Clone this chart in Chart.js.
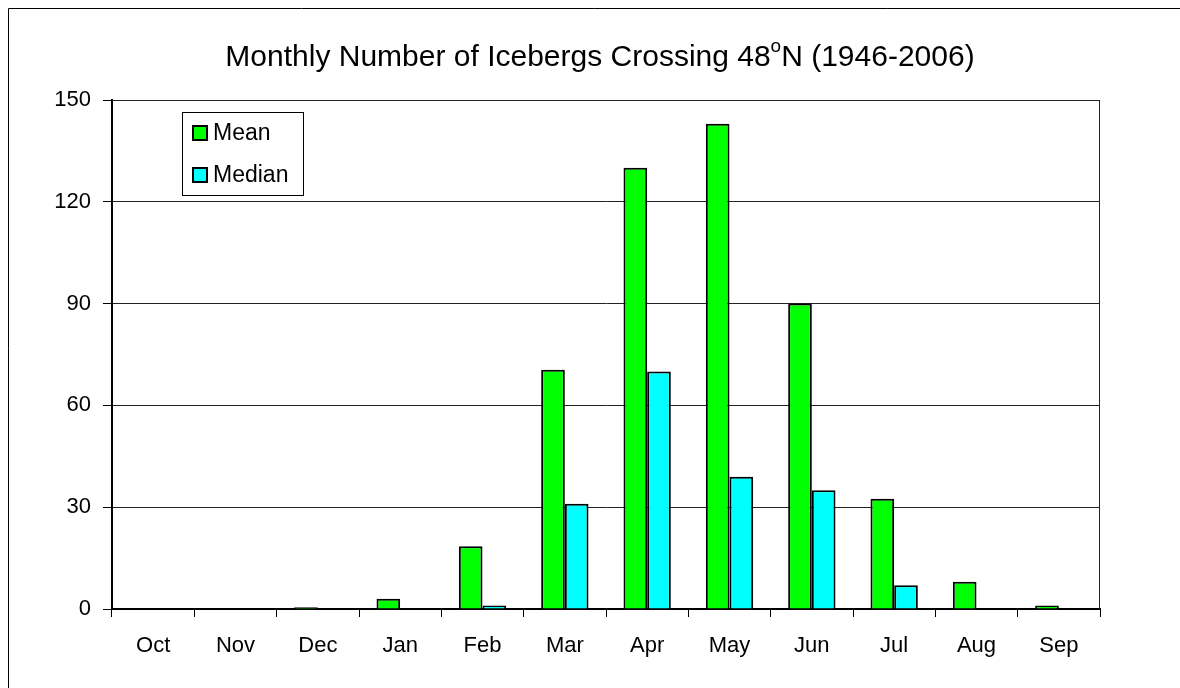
<!DOCTYPE html>
<html>
<head>
<meta charset="utf-8">
<title>Monthly Number of Icebergs Crossing 48N</title>
<script src="https://cdn.jsdelivr.net/npm/chart.js@4/dist/chart.umd.min.js"></script>
<style>
    html, body { margin: 0; padding: 0; background: #fff; }
    #wrap { width: 1180px; height: 688px; position: relative; }
</style>
</head>
<body>
<div id="wrap"><canvas id="grafica" width="1180" height="688"></canvas></div>
<script>
// =============================
// DATA
// =============================
const months = ["Oct", "Nov", "Dec", "Jan", "Feb", "Mar", "Apr", "May", "Jun", "Jul", "Aug", "Sep"];
const meanValues = [0, 0, 0.5, 3, 18.5, 70.5, 130, 143, 90, 32.5, 8, 1];
const medianValues = [0, 0, 0, 0, 1, 31, 70, 39, 35, 7, 0, 0];
const yTicks = [0, 30, 60, 90, 120, 150];

const FONT = '"Liberation Sans", Arial, sans-serif';

// =============================
// EXTRA DRAWING (title, legend, frames)
// =============================
const decoPlugin = {
    id: 'deco',
    afterDraw(chart) {
        const ctx = chart.ctx;
        const area = chart.chartArea;
        ctx.save();

        // outer frame (runs off the right and bottom edge)
        ctx.strokeStyle = '#000';
        ctx.lineWidth = 1;
        ctx.beginPath();
        ctx.moveTo(8.5, 700);
        ctx.lineTo(8.5, 8.5);
        ctx.lineTo(1200, 8.5);
        ctx.stroke();

        // plot area frame: top and right
        ctx.strokeStyle = '#222';
        ctx.beginPath();
        ctx.moveTo(area.left, area.top + 0.5);
        ctx.lineTo(area.right - 0.5, area.top + 0.5);
        ctx.lineTo(area.right - 0.5, area.bottom);
        ctx.stroke();

        // title with superscript o
        const partA = "Monthly Number of Icebergs Crossing 48";
        const partSup = "o";
        const partB = "N (1946-2006)";
        ctx.fillStyle = '#000';
        ctx.textBaseline = 'alphabetic';
        ctx.textAlign = 'left';
        ctx.font = '30px ' + FONT;
        const wA = ctx.measureText(partA).width;
        const wB = ctx.measureText(partB).width;
        ctx.font = '19px ' + FONT;
        const wS = ctx.measureText(partSup).width;
        let x = 600 - (wA + wS + wB) / 2;
        const baseY = 66;
        ctx.font = '30px ' + FONT;
        ctx.fillText(partA, x, baseY);
        x += wA;
        ctx.font = '19px ' + FONT;
        ctx.fillText(partSup, x, baseY - 14);
        x += wS;
        ctx.font = '30px ' + FONT;
        ctx.fillText(partB, x, baseY);

        // legend box
        ctx.fillStyle = '#fff';
        ctx.fillRect(182.5, 112.5, 121, 83);
        ctx.strokeStyle = '#000';
        ctx.lineWidth = 1;
        ctx.strokeRect(182.5, 112.5, 121, 83);

        const items = chart.data.datasets;
        const rows = [133, 175];
        ctx.font = '23px ' + FONT;
        ctx.textBaseline = 'middle';
        items.forEach((ds, i) => {
            const cy = rows[i];
            ctx.fillStyle = ds.backgroundColor;
            ctx.fillRect(193, cy - 7, 14, 14);
            ctx.lineWidth = 2;
            ctx.strokeStyle = '#000';
            ctx.strokeRect(193, cy - 7, 14, 14);
            ctx.fillStyle = '#000';
            ctx.fillText(ds.label, 213, cy + 1);
        });

        ctx.restore();
    }
};

// =============================
// CHART
// =============================
const ctx = document.getElementById('grafica').getContext('2d');

new Chart(ctx, {
    type: 'bar',
    data: {
        labels: months,
        datasets: [
            {
                label: 'Mean',
                data: meanValues,
                backgroundColor: '#00FF00',
                borderColor: '#000',
                borderWidth: 2,
                barPercentage: 1,
                categoryPercentage: 0.575
            },
            {
                label: 'Median',
                data: medianValues,
                backgroundColor: '#00FFFF',
                borderColor: '#000',
                borderWidth: 2,
                barPercentage: 1,
                categoryPercentage: 0.575
            }
        ]
    },
    options: {
        responsive: false,
        animation: false,
        layout: {
            padding: { top: 100, right: 80, bottom: 0, left: 0 }
        },
        plugins: {
            legend: { display: false },
            title: { display: false },
            tooltip: { enabled: false }
        },
        scales: {
            x: {
                grid: {
                    offset: true,
                    drawOnChartArea: false,
                    tickLength: 8,
                    tickColor: '#000',
                    tickWidth: 1
                },
                border: { display: true, color: '#000', width: 2 },
                ticks: {
                    color: '#000',
                    padding: 16,
                    maxRotation: 0,
                    font: { family: FONT, size: 22 }
                },
                afterFit(scale) { scale.height = 79; }
            },
            y: {
                min: 0,
                max: 150,
                afterBuildTicks(scale) {
                    scale.ticks = yTicks.map(v => ({ value: v }));
                },
                grid: {
                    color: '#222',
                    lineWidth: 1,
                    tickLength: 9,
                    tickColor: '#000'
                },
                border: { display: true, color: '#000', width: 2 },
                ticks: {
                    color: '#000',
                    padding: 12,
                    font: { family: FONT, size: 22 }
                },
                afterFit(scale) { scale.width = 112; }
            }
        }
    },
    plugins: [decoPlugin]
});
</script>
</body>
</html>
